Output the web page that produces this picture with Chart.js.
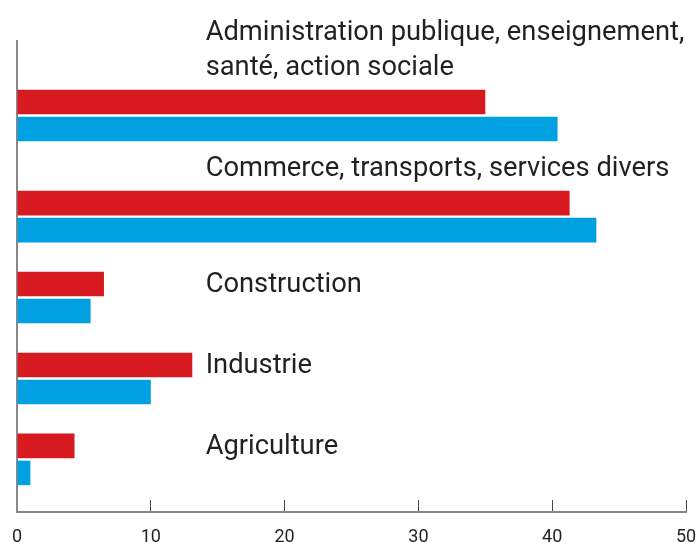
<!DOCTYPE html>
<html><head><meta charset="utf-8">
<script src="https://cdn.jsdelivr.net/npm/chart.js@4/dist/chart.umd.min.js"></script>
<style>html,body{margin:0;padding:0;background:#fff}#wrap{width:696px;height:542px;position:relative}</style>
</head><body><div id="wrap"><canvas id="c"></canvas></div>
<script>
// ---- data ----
const categories = [
  ["Administration publique, enseignement,", "santé, action sociale"],
  ["Commerce, transports, services divers"],
  ["Construction"],
  ["Industrie"],
  ["Agriculture"]
];
const seriesRed = [35.0, 41.3, 6.5, 13.1, 4.3];
const seriesBlue = [40.4, 43.3, 5.5, 10.0, 1.0];
const xTicks = [0, 10, 20, 30, 40, 50];

// ---- layout constants ----
const labelValue = 14.1;      // x value where category labels begin
const extraPerLine = 0.25;    // extra row spacing per label line placed above bars
const RED = '#D71920', BLUE = '#00A0E1', TEXT = '#231F20', AXIS = '#888888';

function labelAbove(i) { return Math.max(seriesRed[i], seriesBlue[i]) > labelValue - 0.8; }
const rowPos = [];
{
  let acc = 0;
  categories.forEach((lines, i) => {
    if (i > 0) acc += 1 + (labelAbove(i) ? extraPerLine * lines.length : 0);
    rowPos.push(acc);
  });
}

const labelPlugin = {
  id: 'rowLabels',
  afterDatasetsDraw(chart) {
    const ctx = chart.ctx, xs = chart.scales.x;
    const red = chart.getDatasetMeta(0).data;
    const lx = xs.getPixelForValue(labelValue);
    ctx.save();
    ctx.font = '27.3px Roboto';
    ctx.fillStyle = TEXT;
    ctx.textAlign = 'left';
    ctx.textBaseline = 'alphabetic';
    categories.forEach((lines, i) => {
      const r = red[i];
      const top = r.y - r.height / 2;
      if (labelAbove(i)) {
        lines.forEach((ln, k) => ctx.fillText(ln, lx, top - 14.5 - (lines.length - 1 - k) * 34.7));
      } else {
        ctx.fillText(lines.join(' '), lx, r.y + 7.7);
      }
    });
    ctx.restore();
  }
};

new Chart(document.getElementById('c'), {
  type: 'bar',
  data: {
    datasets: [
      { label: 'Série 1', data: seriesRed.map((v, i) => ({ x: v, y: rowPos[i] })), backgroundColor: RED,
        categoryPercentage: 0.6675, barPercentage: 0.911 },
      { label: 'Série 2', data: seriesBlue.map((v, i) => ({ x: v, y: rowPos[i] })), backgroundColor: BLUE,
        categoryPercentage: 0.6675, barPercentage: 0.911 }
    ]
  },
  options: {
    indexAxis: 'y',
    responsive: true,
    maintainAspectRatio: false,
    animation: false,
    layout: { padding: { left: 17, right: 10, top: 41, bottom: 0 } },
    plugins: { legend: { display: false }, tooltip: { enabled: false } },
    scales: {
      x: {
        type: 'linear', position: 'bottom', min: 0, max: 50, offset: false,
        afterBuildTicks: s => { s.ticks = xTicks.map(v => ({ value: v })); },
        afterFit: s => { s.height = 30; s.paddingLeft = 0; s.paddingRight = 0; },
        ticks: { color: TEXT, padding: 27, maxRotation: 0, autoSkip: false,
                 font: { family: "'Liberation Sans Narrow', Roboto, sans-serif", size: 18 } },
        grid: { drawOnChartArea: false, drawTicks: true, tickLength: -12, tickColor: '#444', tickWidth: 1, offset: false },
        border: { color: AXIS, width: 2 }
      },
      y: {
        type: 'linear', position: 'left', reverse: true, min: -0.92, max: 4.9, z: 1, offset: false,
        afterBuildTicks: s => { s.ticks = rowPos.map(v => ({ value: v })); },
        afterFit: s => { s.width = 0; },
        ticks: { display: false },
        grid: { display: false, drawTicks: false, offset: false },
        border: { color: AXIS, width: 2 }
      }
    }
  },
  plugins: [labelPlugin]
});
</script>
</body></html>
